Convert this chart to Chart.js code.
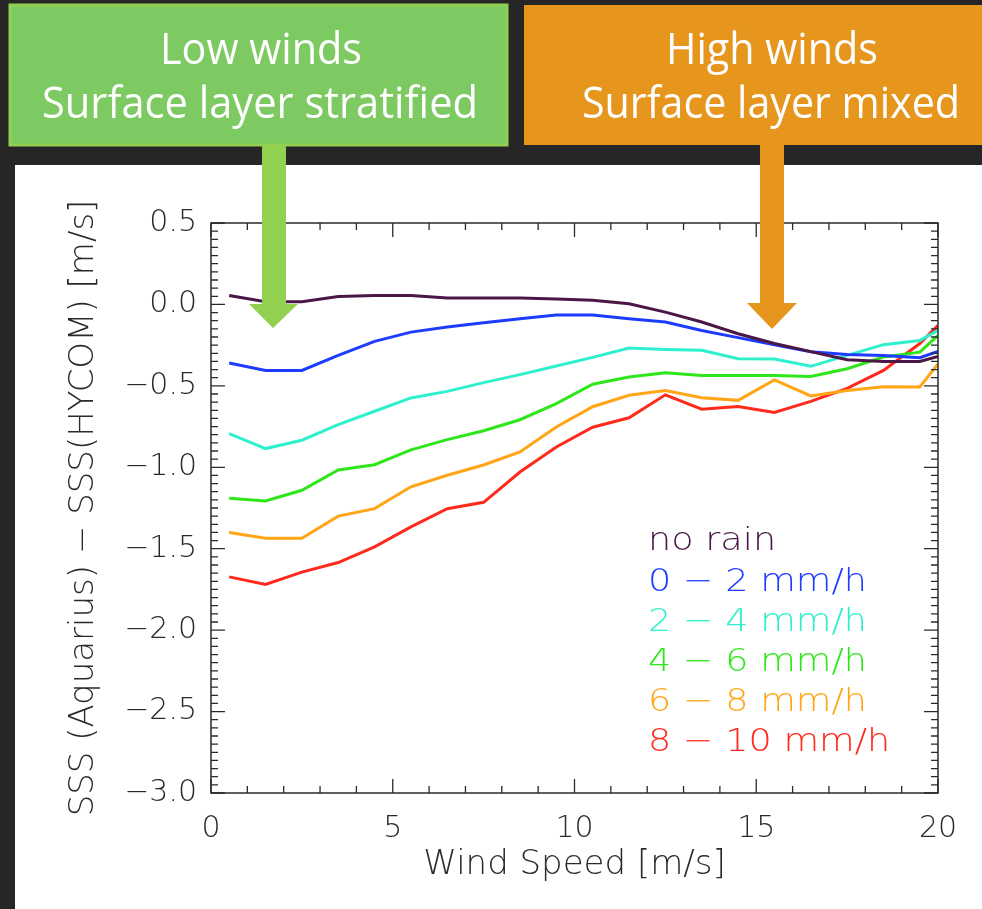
<!DOCTYPE html>
<html>
<head>
<meta charset="utf-8">
<script src="https://cdn.jsdelivr.net/npm/chart.js@4.4.1/dist/chart.umd.min.js"></script>
<style>
  html, body { margin: 0; padding: 0; background: #262626; }
  #wrap { width: 982px; height: 909px; }
</style>
</head>
<body>
<div id="wrap"><canvas id="myChart" width="982" height="909"></canvas></div>
<script>
// Wind speed bins (m/s), last point sits on the right frame
const windSpeed = [0.5, 1.5, 2.5, 3.5, 4.5, 5.5, 6.5, 7.5, 8.5, 9.5, 10.5, 11.5, 12.5, 13.5, 14.5, 15.5, 16.5, 17.5, 18.5, 19.5, 20];

// SSS(Aquarius) - SSS(HYCOM) for each rain class
const noRain  = [0.055, 0.016, 0.016, 0.049, 0.055, 0.055, 0.039, 0.039, 0.039, 0.033, 0.025, 0.004, -0.047, -0.108, -0.18, -0.24, -0.29, -0.34, -0.35, -0.35, -0.32];
const rain0_2 = [-0.36, -0.405, -0.405, -0.313, -0.227, -0.17, -0.139, -0.112, -0.088, -0.065, -0.065, -0.088, -0.108, -0.16, -0.204, -0.248, -0.29, -0.307, -0.313, -0.327, -0.288];
const rain2_4 = [-0.793, -0.885, -0.834, -0.738, -0.656, -0.574, -0.534, -0.48, -0.431, -0.378, -0.325, -0.268, -0.276, -0.282, -0.333, -0.335, -0.38, -0.313, -0.247, -0.221, -0.16];
const rain4_6 = [-1.19, -1.207, -1.141, -1.016, -0.984, -0.893, -0.83, -0.776, -0.708, -0.609, -0.49, -0.446, -0.419, -0.436, -0.436, -0.436, -0.442, -0.395, -0.323, -0.293, -0.19];
const rain6_8 = [-1.40, -1.436, -1.436, -1.3, -1.254, -1.12, -1.049, -0.986, -0.906, -0.753, -0.628, -0.558, -0.528, -0.573, -0.589, -0.464, -0.562, -0.529, -0.505, -0.507, -0.365];
const rain8_10 = [-1.673, -1.72, -1.644, -1.585, -1.489, -1.366, -1.254, -1.215, -1.029, -0.875, -0.754, -0.696, -0.555, -0.643, -0.627, -0.663, -0.595, -0.515, -0.405, -0.24, -0.129];

const seriesNames = ['no rain', '0 \u2212 2 mm/h', '2 \u2212 4 mm/h', '4 \u2212 6 mm/h', '6 \u2212 8 mm/h', '8 \u2212 10 mm/h'];
const seriesColors = ['#4a1746', '#1e3cff', '#2ff0cc', '#2ee61a', '#ffa516', '#ff2a1c'];

const xTicks = [0, 5, 10, 15, 20];
const yTicks = [0.5, 0.0, -0.5, -1.0, -1.5, -2.0, -2.5, -3.0];

const FONT = '"DejaVu Sans", sans-serif';
const INK = '#2a2a2a';

function pairs(ys) {
  return ys.map((y, i) => ({ x: windSpeed[i], y: y }));
}

const allSeries = [noRain, rain0_2, rain2_4, rain4_6, rain6_8, rain8_10];

// page background, white panel
const backdrop = {
  id: 'backdrop',
  beforeDraw(chart) {
    const c = chart.ctx;
    c.save();
    c.fillStyle = '#262626';
    c.fillRect(0, 0, chart.width, chart.height);
    c.fillStyle = '#ffffff';
    c.fillRect(15, 165, chart.width - 15, chart.height - 165);
    c.restore();
  }
};

function fitText(c, text, cx, y, width) {
  const w = c.measureText(text).width;
  c.save();
  c.translate(cx, y);
  c.scale(width / w, 1);
  c.fillText(text, 0, 0);
  c.restore();
}

const overlay = {
  id: 'overlay',
  afterDraw(chart) {
    const c = chart.ctx;
    const a = chart.chartArea;
    const xs = chart.scales.x, ys = chart.scales.y;
    c.save();

    // frame
    c.strokeStyle = INK;
    c.lineWidth = 1.5;
    c.strokeRect(a.left, a.top, a.right - a.left, a.bottom - a.top);

    // inward ticks on all four sides
    c.lineWidth = 1.3;
    c.beginPath();
    for (let v = 0; v <= 20; v++) {
      const px = xs.getPixelForValue(v);
      const len = v % 5 === 0 ? 14 : 7;
      c.moveTo(px, a.bottom); c.lineTo(px, a.bottom - len);
      c.moveTo(px, a.top); c.lineTo(px, a.top + len);
    }
    for (let k = 0; k <= 70; k++) {
      const v = 0.5 - k * 0.05;
      const py = ys.getPixelForValue(v);
      const len = k % 10 === 0 ? 14 : 7;
      c.moveTo(a.left, py); c.lineTo(a.left + len, py);
      c.moveTo(a.right, py); c.lineTo(a.right - len, py);
    }
    c.stroke();

    // legend text, coloured like its line
    c.font = '200 32px ' + FONT;
    c.textBaseline = 'middle';
    c.textAlign = 'left';
    const sx = 219 / c.measureText(chart.data.datasets[1].label).width;
    chart.data.datasets.forEach((ds, i) => {
      c.save();
      c.translate(648, 542 + i * 40.2);
      c.scale(sx, 1);
      c.fillStyle = ds.borderColor;
      c.fillText(ds.label, 0, 0);
      c.restore();
    });

    // banner boxes
    c.fillStyle = '#7dca62';
    c.fillRect(10, 5, 497, 140);
    c.strokeStyle = '#92d050';
    c.lineWidth = 3;
    c.strokeRect(10, 5, 497, 140);
    c.fillStyle = '#e6951d';
    c.fillRect(524, 5, 470, 140);

    c.fillStyle = '#ffffff';
    c.font = '44px "Open Sans", sans-serif';
    c.textAlign = 'center';
    c.textBaseline = 'alphabetic';
    fitText(c, 'Low winds', 261, 64, 202);
    fitText(c, 'Surface layer stratified', 260, 118, 436);
    fitText(c, 'High winds', 772, 64, 212);
    fitText(c, 'Surface layer mixed', 771, 118, 378);

    // arrows
    c.fillStyle = '#92d050';
    c.fillRect(262, 145, 24, 160);
    c.beginPath();
    c.moveTo(249, 304); c.lineTo(298, 304); c.lineTo(273, 328); c.closePath();
    c.fill();
    c.fillStyle = '#e6951d';
    c.fillRect(760, 145, 24, 159);
    c.beginPath();
    c.moveTo(747, 303); c.lineTo(797, 303); c.lineTo(772, 329); c.closePath();
    c.fill();

    c.restore();
  }
};

const ctx = document.getElementById('myChart').getContext('2d');

const myChart = new Chart(ctx, {
  type: 'line',
  data: {
    datasets: allSeries.map((ys, i) => ({
      label: seriesNames[i],
      data: pairs(ys),
      borderColor: seriesColors[i],
      borderWidth: 3,
      pointRadius: 0,
      tension: 0,
      fill: false
    }))
  },
  options: {
    responsive: false,
    animation: false,
    devicePixelRatio: 1,
    layout: { padding: { left: 0, top: 223, right: 44, bottom: 0 } },
    plugins: {
      legend: { display: false },
      tooltip: { enabled: false }
    },
    scales: {
      x: {
        type: 'linear',
        min: 0,
        max: 20,
        grid: { display: false, drawTicks: false },
        border: { display: false },
        afterFit(scale) { scale.height = 116; },
        afterBuildTicks(scale) { scale.ticks = xTicks.map(v => ({ value: v })); },
        ticks: {
          autoSkip: false,
          maxRotation: 0,
          padding: 18,
          color: INK,
          font: { family: FONT, size: 30, weight: 200 }
        },
        title: {
          display: true,
          text: 'Wind Speed [m/s]',
          color: INK,
          padding: { top: 0, bottom: 23 },
          font: { family: FONT, size: 34, weight: 200 }
        }
      },
      y: {
        type: 'linear',
        min: -3,
        max: 0.5,
        grid: { display: false, drawTicks: false },
        border: { display: false },
        afterFit(scale) { scale.width = 211; },
        afterBuildTicks(scale) { scale.ticks = yTicks.map(v => ({ value: v })); },
        ticks: {
          autoSkip: false,
          padding: 14,
          color: INK,
          font: { family: FONT, size: 30, weight: 200 },
          callback: v => (v < 0 ? '\u2212' : '') + Math.abs(v).toFixed(1)
        },
        title: {
          display: true,
          text: 'SSS (Aquarius) \u2212 SSS(HYCOM) [m/s]',
          color: INK,
          padding: { top: 64, bottom: 0 },
          font: { family: FONT, size: 34, weight: 200 }
        }
      }
    }
  },
  plugins: [backdrop, overlay]
});
</script>
</body>
</html>
